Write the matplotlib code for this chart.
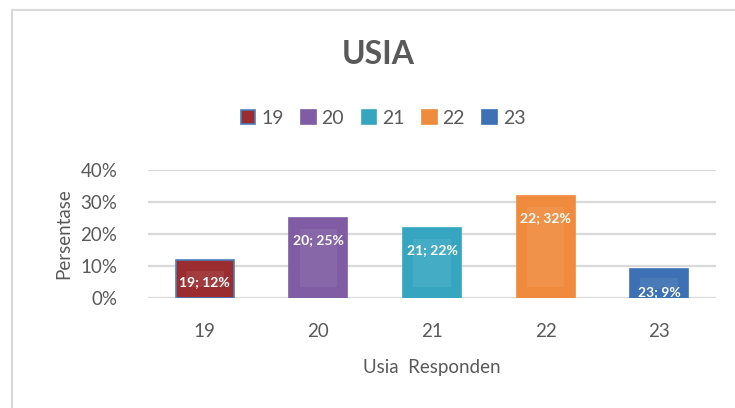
import numpy as np
import matplotlib.pyplot as plt
from matplotlib.patches import Rectangle
from matplotlib.colors import to_rgb

plt.rcParams['font.family'] = ['Lato', 'DejaVu Sans']

# data
usia = ['19', '20', '21', '22', '23']
persen = [12, 25, 22, 32, 9]
warna = ['#9B2D30', '#7F5CA3', '#36A6C0', '#F08A3C', '#3D70B4']

fig = plt.figure(figsize=(7.35, 4.08), dpi=100)
fig.patches.append(Rectangle((12 / 735, -0.1), 1.2, 1 - 10 / 408 + 0.1,
                             transform=fig.transFigure, fill=False,
                             edgecolor='#D9D9D9', linewidth=1.5))

ax = fig.add_axes([148 / 735, 1 - 298 / 408, 568 / 735, 128 / 408])
x = np.arange(len(usia))
w = 0.51

def lighter(c, f=0.07):
    r, g, b = to_rgb(c)
    return (r + (1 - r) * f, g + (1 - g) * f, b + (1 - b) * f)

for i in range(len(usia)):
    ec = '#4A7EBB' if i == 0 else warna[i]
    ax.bar(x[i], persen[i], width=w, color=warna[i], edgecolor=ec,
           linewidth=1.2, zorder=2, label=usia[i])
    # inner bevel-like face
    inset = min(3.5, persen[i] * 0.3)
    ax.bar(x[i], persen[i] - 2 * inset, bottom=inset, width=w - 0.18,
           color=lighter(warna[i]), linewidth=0, zorder=3)
    ax.text(x[i], persen[i] - 7, f'{usia[i]}; {persen[i]}%', ha='center',
            va='center', color='white', fontsize=10, fontweight='bold',
            zorder=4)

ax.set_xlim(-0.5, len(usia) - 0.5)
ax.set_ylim(0, 40)
ax.set_yticks([0, 10, 20, 30, 40])
ax.set_yticklabels(['0%', '10%', '20%', '30%', '40%'])
ax.set_xticks(x)
ax.set_xticklabels(usia)
ax.tick_params(length=0, labelsize=13.5, colors='#595959')
ax.tick_params(axis='x', pad=18)
ax.tick_params(axis='y', pad=22)
ax.grid(axis='y', color='#D9D9D9', linewidth=1.6, zorder=0)
for s in ax.spines.values():
    s.set_visible(False)

ax.set_xlabel('Usia  Responden', fontsize=13.5, color='#595959', labelpad=14)
ax.set_ylabel('Persentase', fontsize=13.5, color='#595959', labelpad=6)

fig.text(0.515, 1 - 55 / 408, 'USIA', ha='center', va='center', fontsize=23,
         fontweight='bold', color='#595959')

handles, labels = ax.get_legend_handles_labels()
fig.legend(handles, labels, loc='center', bbox_to_anchor=(383 / 735, 1 - 118 / 408),
           ncol=5, frameon=False, fontsize=14, handlelength=0.75,
           handleheight=0.75, handletextpad=0.3, columnspacing=0.9,
           labelcolor='#595959')

fig.savefig('out.png', dpi=100)
